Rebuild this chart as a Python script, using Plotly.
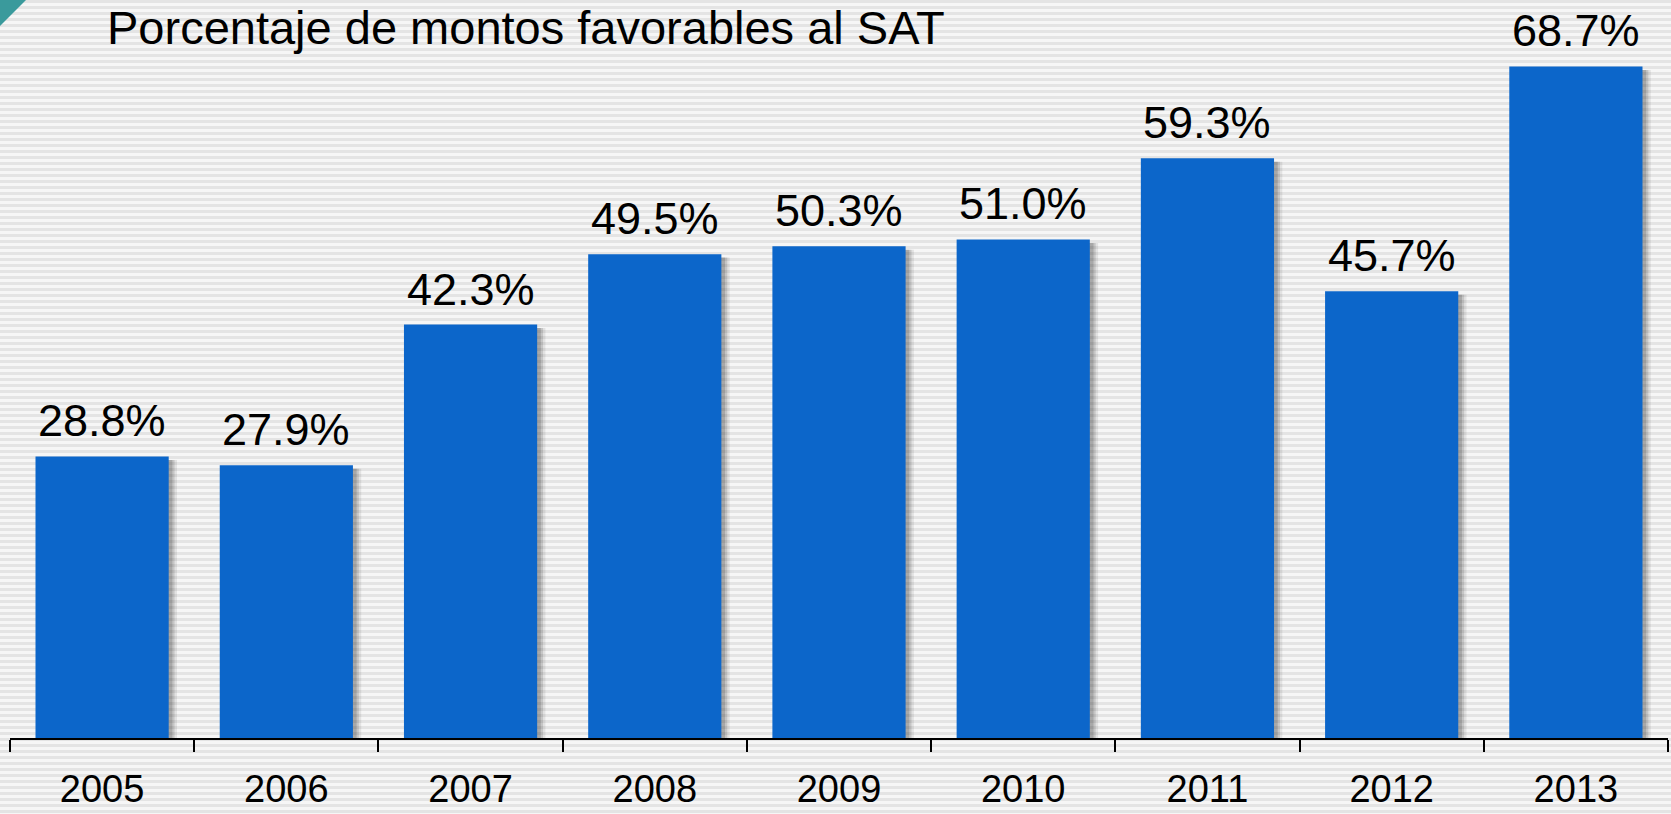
import plotly.graph_objects as go

years = ["2005", "2006", "2007", "2008", "2009", "2010", "2011", "2012", "2013"]
percent = [28.8, 27.9, 42.3, 49.5, 50.3, 51.0, 59.3, 45.7, 68.7]
labels = ["28.8%", "27.9%", "42.3%", "49.5%", "50.3%", "51.0%", "59.3%", "45.7%", "68.7%"]
title_text = "Porcentaje de montos favorables al SAT"

W, H = 1671, 814
ML, MR, MT, MB = 10, 3, 0, 76
PW, PH = W - ML - MR, H - MT - MB
FONT = "Liberation Sans, Arial, sans-serif"
BAR_W = 0.723


def px_x(x):
    return (x - ML) / PW


def px_y(y):
    return (H - MB - y) / PH


fig = go.Figure()

# soft shadows behind bars
for dx, alpha in [(0.045, 0.08), (0.032, 0.12), (0.02, 0.15)]:
    fig.add_trace(go.Bar(
        x=years, y=percent, base=[-0.35] * len(years),
        width=BAR_W, offset=-BAR_W / 2 + dx,
        marker=dict(color=f"rgba(0,0,0,{alpha})", line=dict(width=0)),
        hoverinfo="skip", showlegend=False,
    ))

fig.add_trace(go.Bar(
    x=years, y=percent, width=BAR_W, offset=-BAR_W / 2,
    marker=dict(color="#0c66ca", line=dict(width=0)),
    showlegend=False,
))

annotations = []
for i, (v, lab) in enumerate(zip(percent, labels)):
    annotations.append(dict(
        x=i, y=v, xref="x", yref="y", text=lab, showarrow=False,
        yanchor="bottom", yshift=8,
        font=dict(family=FONT, size=45, color="#000000"),
    ))

# striped background
stripe_path = ""
for yy in range(0, H + 6, 6):
    stripe_path += f"M{px_x(0)},{px_y(yy + 1.5)} H{px_x(W)} "
shapes = [
    dict(type="path", path=stripe_path, xref="paper", yref="paper",
         line=dict(color="#e4e4e4", width=3), layer="below"),
    dict(type="path", xref="paper", yref="paper", layer="below",
         path=f"M{px_x(0)},{px_y(0)} L{px_x(26)},{px_y(0)} L{px_x(0)},{px_y(26)} Z",
         fillcolor="#3a9a9c", line=dict(width=0)),
]

fig.update_layout(
    width=W, height=H,
    margin=dict(l=ML, r=MR, t=MT, b=MB, autoexpand=False),
    paper_bgcolor="#f6f6f6", plot_bgcolor="rgba(0,0,0,0)",
    barmode="overlay",
    title=dict(text=title_text, x=107 / W, xanchor="left", xref="container",
               y=1 - 28 / H, yanchor="middle", yref="container",
               font=dict(family=FONT, size=47, color="#000000")),
    annotations=annotations,
    shapes=shapes,
    xaxis=dict(
        type="category", showgrid=False, tickson="boundaries",
        ticks="outside", ticklen=12, tickwidth=2, tickcolor="#000000",
        showline=True, linecolor="#000000", linewidth=2,
        tickfont=dict(family=FONT, size=38, color="#000000"),
        ticklabelstandoff=16, range=[-0.5, 8.5],
    ),
    yaxis=dict(range=[0, 75.5], visible=False, showgrid=False, zeroline=False),
)

fig.write_html(
    "out.html",
    config={"displayModeBar": False},
    post_script="document.body.style.margin='0';document.body.style.overflow='hidden';",
)
